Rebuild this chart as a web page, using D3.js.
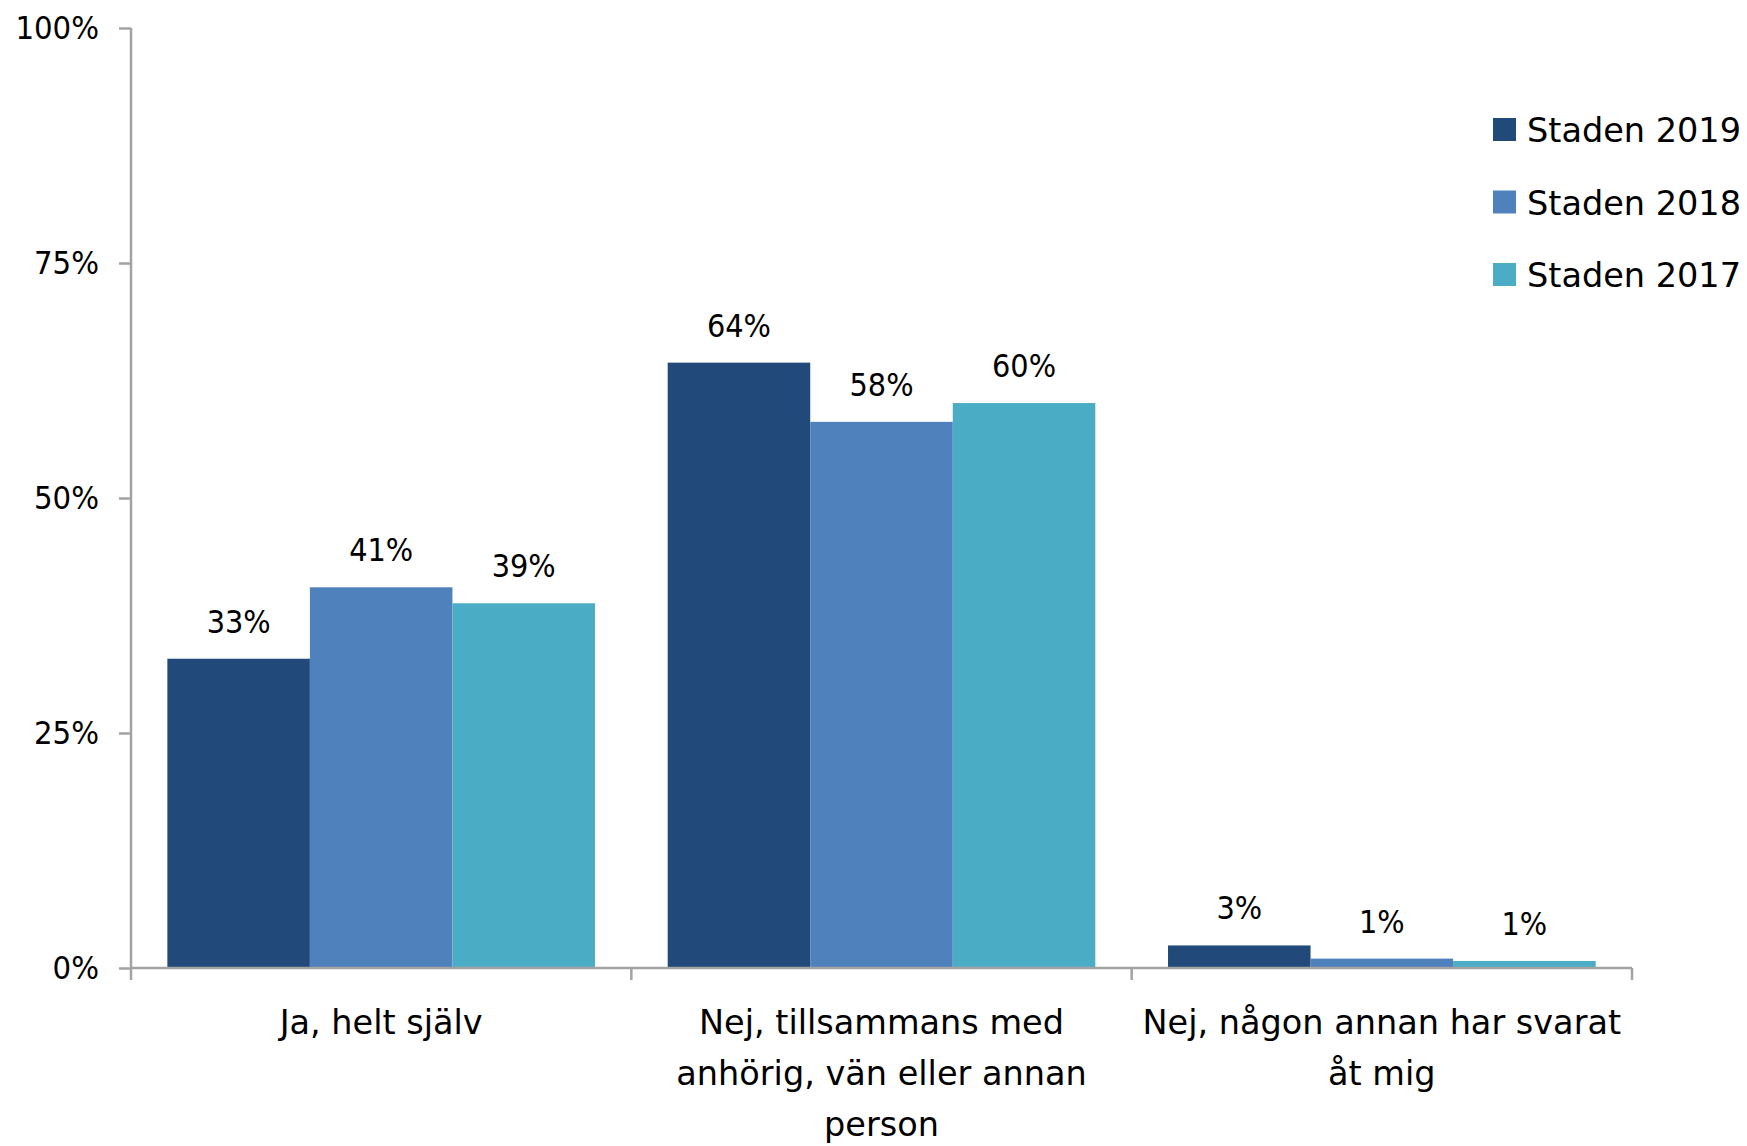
<!DOCTYPE html>
<html>
<head>
<meta charset="utf-8">
<script src="https://cdn.jsdelivr.net/npm/d3@7"></script>
<style>
  html, body { margin: 0; padding: 0; background: #ffffff; }
  svg { display: block; }
</style>
</head>
<body>
<svg id="chart" width="1747" height="1146"></svg>
<script>
// ---- data ----
const categories = [
  "Ja, helt själv",
  "Nej, tillsammans med anhörig, vän eller annan person",
  "Nej, någon annan har svarat åt mig"
];
const categoryLines = [
  ["Ja, helt själv"],
  ["Nej, tillsammans med", "anhörig, vän eller annan", "person"],
  ["Nej, någon annan har svarat", "åt mig"]
];
const seriesNames = ["Staden 2019", "Staden 2018", "Staden 2017"];
const values2019 = [32.9, 64.4, 2.4];
const values2018 = [40.5, 58.1, 1.0];
const values2017 = [38.8, 60.1, 0.75];
const labels2019 = ["33%", "64%", "3%"];
const labels2018 = ["41%", "58%", "1%"];
const labels2017 = ["39%", "60%", "1%"];
const yTicks = [0, 25, 50, 75, 100];
const yTickLabels = ["0%", "25%", "50%", "75%", "100%"];
const seriesColors = ["#214a7b", "#4f81bd", "#4bacc6"];

const seriesValues = [values2019, values2018, values2017];
const seriesLabels = [labels2019, labels2018, labels2017];

(function draw() {
  const svg = d3.select("#chart");
  const mLeft = 131, mRight = 1632, mTop = 28, mBottom = 968;
  const axisColor = "#a3a3a3";
  const numFont = "'DejaVu Sans Condensed', 'DejaVu Sans', sans-serif";
  const txtFont = "'DejaVu Sans', sans-serif";
  const textColor = "#000";

  const x = d3.scaleBand().domain(categories).range([mLeft, mRight]).paddingInner(0).paddingOuter(0);
  const xs = d3.scaleBand().domain(seriesNames).range([0, x.bandwidth()]).paddingInner(0).paddingOuter(0.255);
  const y = d3.scaleLinear().domain([0, 100]).range([mBottom, mTop]);

  const rows = [];
  categories.forEach((c, ci) => {
    seriesNames.forEach((s, si) => {
      rows.push({ cat: c, series: s, si, value: seriesValues[si][ci], label: seriesLabels[si][ci] });
    });
  });

  svg.append("g").selectAll("rect").data(rows).join("rect")
    .attr("x", d => x(d.cat) + xs(d.series))
    .attr("y", d => y(d.value))
    .attr("width", xs.bandwidth())
    .attr("height", d => y(0) - y(d.value))
    .attr("fill", d => seriesColors[d.si]);

  svg.append("g").selectAll("text").data(rows).join("text")
    .attr("x", d => x(d.cat) + xs(d.series) + xs.bandwidth() / 2)
    .attr("y", d => y(d.value) - 26)
    .attr("text-anchor", "middle")
    .attr("font-family", numFont)
    .attr("font-size", 32)
    .attr("fill", textColor)
    .text(d => d.label);

  const yAxis = svg.append("g")
    .attr("transform", `translate(${mLeft},0)`)
    .call(d3.axisLeft(y).tickValues(yTicks).tickSize(12).tickPadding(20)
      .tickFormat((d, i) => yTickLabels[i]));
  yAxis.select(".domain").remove();
  yAxis.selectAll(".tick line").attr("stroke", axisColor).attr("stroke-width", 2.5);
  yAxis.selectAll(".tick text")
    .attr("font-family", numFont).attr("font-size", 32.5).attr("fill", textColor);
  yAxis.append("line")
    .attr("x1", 0).attr("x2", 0).attr("y1", mTop).attr("y2", mBottom + 12)
    .attr("stroke", axisColor).attr("stroke-width", 2.5);

  const xAxis = svg.append("g");
  xAxis.append("line")
    .attr("x1", mLeft).attr("x2", mRight).attr("y1", mBottom).attr("y2", mBottom)
    .attr("stroke", axisColor).attr("stroke-width", 2.5);
  const bounds = categories.map(c => x(c)).concat([x.range()[1]]);
  xAxis.selectAll("line.b").data(bounds.slice(1)).join("line")
    .attr("class", "b")
    .attr("x1", d => d).attr("x2", d => d)
    .attr("y1", mBottom).attr("y2", mBottom + 12)
    .attr("stroke", axisColor).attr("stroke-width", 2.5);

  const catG = svg.append("g");
  categories.forEach((c, ci) => {
    const t = catG.append("text")
      .attr("text-anchor", "middle")
      .attr("font-family", txtFont)
      .attr("font-size", 33.5)
      .attr("fill", textColor);
    categoryLines[ci].forEach((line, li) => {
      t.append("tspan")
        .attr("x", x(c) + x.bandwidth() / 2)
        .attr("y", 1034 + li * 51)
        .text(line);
    });
  });

  const lg = svg.append("g").attr("transform", "translate(1493,118)");
  seriesNames.forEach((s, i) => {
    const g = lg.append("g").attr("transform", `translate(0,${i * 72.5})`);
    g.append("rect").attr("width", 23).attr("height", 23).attr("fill", seriesColors[i]);
    g.append("text")
      .attr("x", 34).attr("y", 24)
      .attr("font-family", txtFont)
      .attr("font-size", 33.5)
      .attr("fill", textColor)
      .text(s);
  });
})();
</script>
</body>
</html>
